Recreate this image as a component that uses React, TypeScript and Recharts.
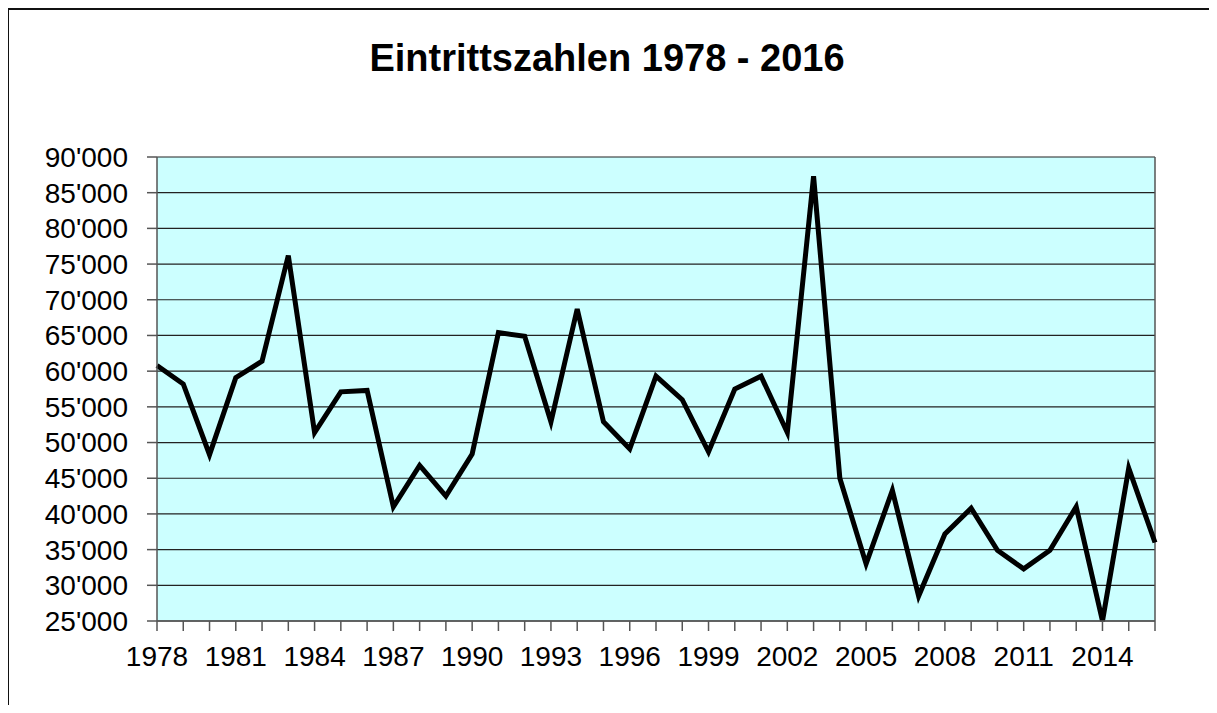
import { CartesianGrid, Line, LineChart, ReferenceLine, XAxis, YAxis } from "recharts";

const years = [
    "1978", "1979", "1980", "1981", "1982", "1983", "1984", "1985", "1986", "1987",
    "1988", "1989", "1990", "1991", "1992", "1993", "1994", "1995", "1996", "1997",
    "1998", "1999", "2000", "2001", "2002", "2003", "2004", "2005", "2006", "2007",
    "2008", "2009", "2010", "2011", "2012", "2013", "2014", "2015", "2016"
];

// Eintritte pro Jahr
const visitors = [
    60800, 58200, 48300, 59100, 61400, 76200, 51400, 57100, 57300, 41000,
    46800, 42500, 48400, 65400, 64900, 52900, 68700, 52900, 49100, 59300,
    56000, 48700, 57500, 59300, 51400, 87300, 45000, 33000, 43300, 28500,
    37200, 40800, 34900, 32300, 34900, 41000, 25000, 46400, 36000
];

const yTicks = [25000, 30000, 35000, 40000, 45000, 50000, 55000, 60000, 65000, 70000, 75000, 80000, 85000, 90000];

const title = "Eintrittszahlen 1978 - 2016";

const data = years.map((year, i) => ({ year, value: visitors[i] }));

function formatY(value: number) {
    return `${Math.round(value / 1000)}'000`;
}

function formatX(value: string) {
    return (Number(value) - 1978) % 3 === 0 ? value : '';
}

const font = "'Liberation Sans', Arial, sans-serif";

export default function App() {
    return (
        <div style={{ position: 'relative', width: 1209, height: 697, overflow: 'hidden', fontFamily: font }}>
            {/* Rahmen: nur oben und links sichtbar, rechts/unten ausserhalb des Bildes */}
            <div style={{ position: 'absolute', left: -1, top: 0, right: 0, bottom: 0, borderTop: '2px solid #111', borderLeft: '2px solid #111' }} />
            <LineChart width={1209} height={697} data={data} margin={{ top: 149, right: 62, bottom: 24, left: 0 }}>
                <CartesianGrid vertical={false} stroke="#222" strokeWidth={1.2} fill="#CCFFFF" fillOpacity={1} />
                <XAxis dataKey="year" interval={0} tickFormatter={formatX} height={60} stroke="#555" strokeWidth={1.5}
                    tickSize={10} tickMargin={15} tick={{ fill: '#000', fontSize: 28, fontFamily: font }} />
                <YAxis domain={[25000, 90000]} ticks={yTicks} tickFormatter={formatY} width={149} stroke="#555" strokeWidth={1.5}
                    interval={0} tickSize={10} tickMargin={19} tick={{ fill: '#000', fontSize: 28, fontFamily: font }} />
                <ReferenceLine x="2016" stroke="#555" strokeWidth={1.5} />
                <Line type="linear" dataKey="value" stroke="#000" strokeWidth={5} dot={false} isAnimationActive={false} />
            </LineChart>
            <svg width={1209} height={697} style={{ position: 'absolute', left: 0, top: 0, pointerEvents: 'none' }}>
                <text x={599} y={63} textAnchor="middle" fontFamily={font} fontWeight="bold" fontSize={38} fill="#000">{title}</text>
            </svg>
        </div>
    );
}
